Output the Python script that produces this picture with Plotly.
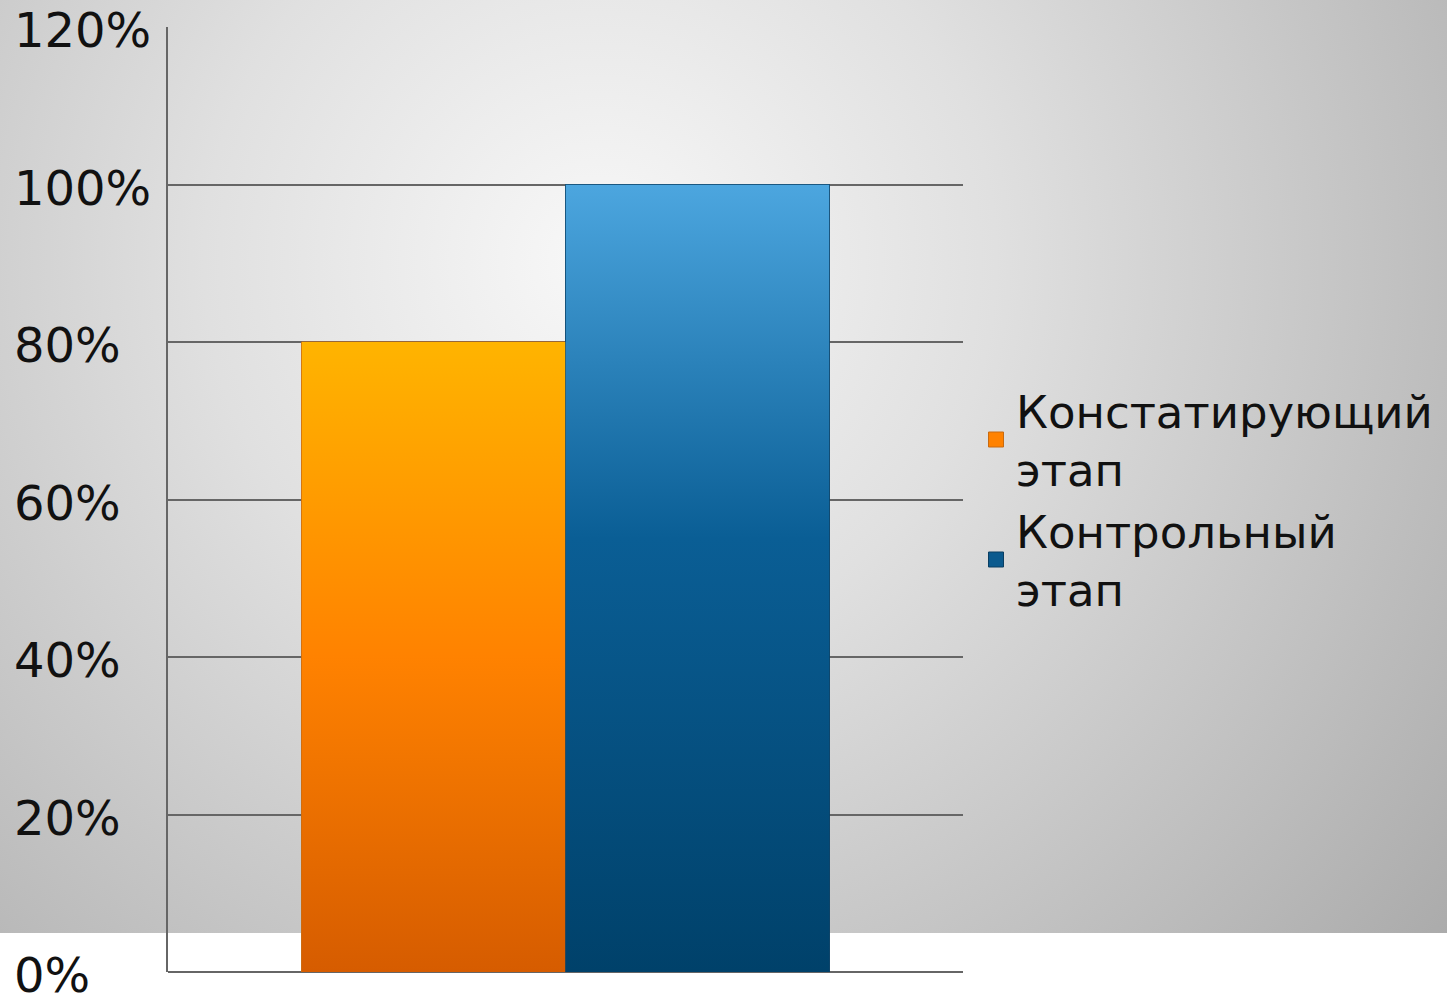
import base64
import plotly.graph_objects as go

# ---- data ----
categories = [""]
series_names = ["Констатирующий<br>этап", "Контрольный<br>этап"]
series_values = [80, 100]
tick_values = [0, 20, 40, 60, 80, 100, 120]
tick_labels = ["0%", "20%", "40%", "60%", "80%", "100%", "120%"]

# ---- style ----
W, H = 1447, 994
ML, MR, MT, MB = 168, 484, 27, 22
PW, PH = W - ML - MR, H - MT - MB
FONT = "DejaVu Sans"
FS_TICK = 48
FS_LEG = 45
GRID = "#666666"
bar_mid = ["#FF8200", "#0B5A8E"]
bar_line = ["#C86A10", "#0A3E62"]
bar_stops = [
    [(0, "#FFB400"), (0.5, "#FF8200"), (1, "#D65C00")],
    [(0, "#4CA6DF"), (0.45, "#0A5E95"), (1, "#00416A")],
]
BARGAP = 0.336


def svg_uri(svg):
    return "data:image/svg+xml;base64," + base64.b64encode(svg.encode("utf-8")).decode("ascii")


def linear_svg(stops):
    st = "".join(f'<stop offset="{o}" stop-color="{c}"/>' for o, c in stops)
    return svg_uri(
        '<svg xmlns="http://www.w3.org/2000/svg" width="100" height="100" viewBox="0 0 100 100" preserveAspectRatio="none">'
        f'<defs><linearGradient id="g" x1="0" y1="0" x2="0" y2="1">{st}</linearGradient></defs>'
        '<rect x="0" y="0" width="100" height="100" fill="url(#g)"/></svg>'
    )


BG_H = 933
bg_svg = svg_uri(
    f'<svg xmlns="http://www.w3.org/2000/svg" width="{W}" height="{BG_H}" viewBox="0 0 {W} {BG_H}" preserveAspectRatio="none">'
    '<defs><radialGradient id="r" gradientUnits="userSpaceOnUse" cx="600" cy="260" r="1200">'
    '<stop offset="0" stop-color="#f8f8f8"/><stop offset="0.33" stop-color="#e0e0e0"/>'
    '<stop offset="1" stop-color="#a2a2a2"/></radialGradient></defs>'
    f'<rect x="0" y="0" width="{W}" height="{BG_H}" fill="url(#r)"/></svg>'
)

fig = go.Figure()
n = len(series_values)
bw = (1 - BARGAP) / n
images = []
for i, (name, val) in enumerate(zip(series_names, series_values)):
    fig.add_trace(go.Bar(
        x=[0], y=[val], name=name, showlegend=False,
        marker=dict(color=bar_mid[i], line=dict(color=bar_line[i], width=1)),
        hoverinfo="skip",
    ))
    left = -(1 - BARGAP) / 2 + i * bw
    images.append(dict(
        source=linear_svg(bar_stops[i]), xref="x", yref="y",
        x=left, y=val, sizex=bw, sizey=val, xanchor="left", yanchor="top",
        sizing="stretch", layer="above",
    ))

# legend entries with larger square keys
for i, name in enumerate(series_names):
    fig.add_trace(go.Scatter(
        x=[None], y=[None], mode="markers", name=name,
        marker=dict(symbol="square", size=15, color=bar_mid[i],
                    line=dict(color=bar_line[i], width=1)),
        hoverinfo="skip",
    ))

# background gradient (paper coordinates relative to plot area)
images.insert(0, dict(
    source=bg_svg, xref="paper", yref="paper",
    x=-ML / PW, y=1 + MT / PH, sizex=W / PW, sizey=BG_H / PH,
    xanchor="left", yanchor="top", sizing="stretch", layer="below",
))

annotations = []
for v, t in zip(tick_values, tick_labels):
    annotations.append(dict(
        text=t, xref="paper", yref="y", x=(12 - ML) / PW, y=v,
        xanchor="left", yanchor="middle", yshift=-3, showarrow=False,
        font=dict(family=FONT, size=FS_TICK, color="#111111"),
    ))

fig.update_layout(
    width=W, height=H,
    margin=dict(l=ML, r=MR, t=MT, b=MB, pad=0, autoexpand=False),
    paper_bgcolor="white",
    plot_bgcolor="rgba(0,0,0,0)",
    barmode="group", bargap=BARGAP, bargroupgap=0,
    images=images,
    annotations=annotations,
    showlegend=True,
    legend=dict(
        x=(976 - ML) / PW, xanchor="left", y=0.5, yanchor="middle",
        bgcolor="rgba(0,0,0,0)", borderwidth=0,
        font=dict(family=FONT, size=FS_LEG, color="#111111"),
        tracegroupgap=0, valign="middle", itemwidth=30,
    ),
    xaxis=dict(range=[-0.5, 0.5], visible=False, fixedrange=True),
    yaxis=dict(
        range=[0, 120], tickvals=tick_values, showticklabels=False,
        showgrid=True, gridcolor=GRID, gridwidth=2,
        zeroline=True, zerolinecolor=GRID, zerolinewidth=2,
        showline=True, linecolor=GRID, linewidth=2, ticks="",
    ),
    font=dict(family=FONT),
)

fig.write_html(
    "out.html",
    config={"displayModeBar": False},
    post_script=(
        "document.body.style.margin='0';document.body.style.overflow='hidden';"
        "document.documentElement.style.overflow='hidden';"
    ),
)
